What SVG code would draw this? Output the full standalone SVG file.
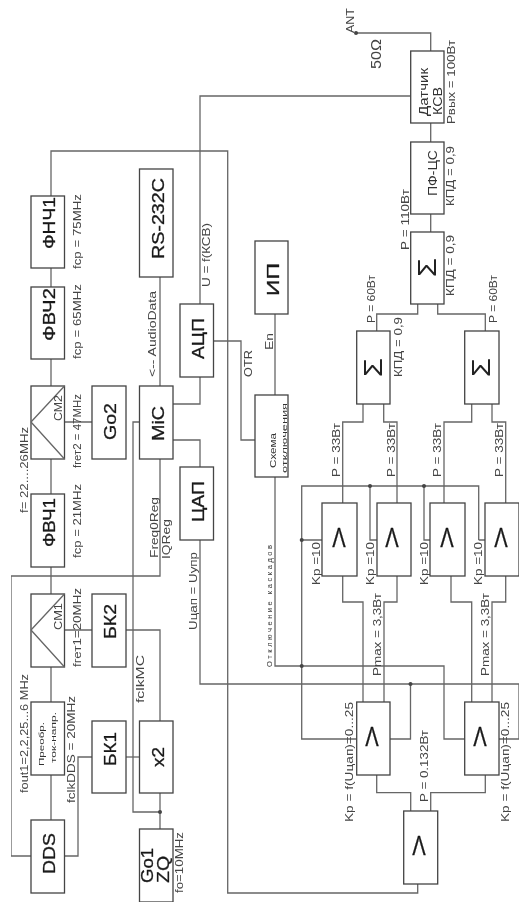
<svg xmlns="http://www.w3.org/2000/svg" width="528" height="913" viewBox="0 0 528 913">
<style>
text{font-family:"Liberation Sans",Arial,sans-serif;fill:#2a2a2a}
.b{fill:#fff;stroke:#444;stroke-width:1.3}
.c{fill:none;stroke:#666;stroke-width:1.3}
.d{fill:#444;stroke:none}
.l{font-size:11px;fill:#444}
.n{font-size:16px;fill:#1a1a1a;stroke:#1a1a1a;stroke-width:.3}
.m{font-size:12px;fill:#333}
.s{font-size:7.5px;fill:#333}
.a{font-size:28px;text-anchor:middle;fill:#1a1a1a;stroke:#1a1a1a;stroke-width:.3}
.z{font-size:26px;fill:#222}
</style>
<defs><filter id="soft" x="0" y="0" width="100%" height="100%"><feGaussianBlur stdDeviation="0.35"/></filter></defs>
<rect width="528" height="913" fill="#fff"/>
<g filter="url(#soft)">
<g id="connectors">
<path class="c" d="M51 196V151H227.700V893H417.700V884"/>
<path class="c" d="M51 268V287M51 359V386M51 459V494M51 567V594M51 667V702M51 775V820"/>
<path class="c" d="M200 304V96H410.700"/>
<path class="c" d="M160 277V386"/>
<path class="c" d="M213.500 341H241V440H255"/>
<path class="c" d="M200 377V404H173"/>
<path class="c" d="M173 440H200V467"/>
<path class="c" d="M200 540V684H519V739H499"/>
<path class="c" d="M410.500 684V739H390"/>
<path class="c" d="M64.500 422H92M64.500 630H92"/>
<path class="c" d="M126 630H160V721"/>
<path class="c" d="M139.500 422H133V812H160"/>
<path class="c" d="M160 793V829"/>
<path class="c" d="M126 757H139.500"/>
<path class="c" d="M92 757H78V856H64.500"/>
<path class="c" d="M31 856H11V576H160V459"/>
<path class="c" d="M430.700 51V33H356"/>
<path class="c" d="M430.700 123V142M430.700 214V232"/>
<path class="c" d="M417.700 304V314H376.700V331M437.700 304V314H485.300V331"/>
<path class="c" d="M363 404V422H342.700V503M383.700 404V422H397V503"/>
<path class="c" d="M471.700 404V422H444V503M492 404V422H505.700V503"/>
<path class="c" d="M478.700 540V486H301.700V739H356.700"/>
<path class="c" d="M301.700 540H322M370 486V540H377M424 486V540H430M478.700 540H485"/>
<path class="c" d="M275 314V395M275 477V666H444V739H464.700"/>
<path class="c" d="M342.700 576V602H363V702M397 576V602H384V702M451 576V602H471.700V702M505.700 576V602H492V702"/>
<path class="c" d="M376.700 775V792.700H410.700V811M485.300 775V792.700H430.700V811"/>
<circle class="d" cx="356" cy="33" r="2"/>
<circle class="d" cx="160" cy="812" r="2"/>
<circle class="d" cx="370" cy="486" r="2"/>
<circle class="d" cx="424" cy="486" r="2"/>
<circle class="d" cx="301.700" cy="540" r="2"/>
<circle class="d" cx="301.700" cy="666" r="2"/>
<circle class="d" cx="410.500" cy="684" r="2"/>
</g>

<g id="fnch1"><rect class="b" x="31" y="196" width="33.500" height="72"/><text class="n" transform="translate(55,249) rotate(-90)" textLength="52" lengthAdjust="spacingAndGlyphs">ФНЧ1</text></g>
<g id="fvch2"><rect class="b" x="31" y="287" width="33.500" height="72"/><text class="n" transform="translate(55,341) rotate(-90)" textLength="53" lengthAdjust="spacingAndGlyphs">ФВЧ2</text></g>
<g id="rs232"><rect class="b" x="139.500" y="169" width="33.500" height="108"/><text class="n" transform="translate(164,259) rotate(-90)" textLength="81" lengthAdjust="spacingAndGlyphs">RS-232C</text></g>
<g id="adc"><rect class="b" x="180" y="304" width="33.500" height="73"/><text class="n" transform="translate(204,359) rotate(-90)" textLength="41" lengthAdjust="spacingAndGlyphs">АЦП</text></g>
<g id="sm2"><rect class="b" x="31" y="386" width="33.500" height="73"/><path class="c" d="M31 422L64.500 386M31 422L64.500 459"/><text class="l" transform="translate(62,421) rotate(-90)" textLength="26" lengthAdjust="spacingAndGlyphs">СМ2</text></g>
<g id="go2"><rect class="b" x="92" y="386" width="34" height="73"/><text class="n" transform="translate(116,440) rotate(-90)" textLength="37" lengthAdjust="spacingAndGlyphs">Go2</text></g>
<g id="mic"><rect class="b" x="139.500" y="386" width="33.500" height="73"/><text class="n" transform="translate(164,441) rotate(-90)" textLength="35" lengthAdjust="spacingAndGlyphs">MiC</text></g>
<g id="fvch1"><rect class="b" x="31" y="494" width="33.500" height="73"/><text class="n" transform="translate(55,547) rotate(-90)" textLength="49" lengthAdjust="spacingAndGlyphs">ФВЧ1</text></g>
<g id="dac"><rect class="b" x="180" y="467" width="33.500" height="73"/><text class="n" transform="translate(204,522) rotate(-90)" textLength="41" lengthAdjust="spacingAndGlyphs">ЦАП</text></g>
<g id="sm1"><rect class="b" x="31" y="594" width="33.500" height="73"/><path class="c" d="M31 630L64.500 594M31 630L64.500 667"/><text class="l" transform="translate(62,630) rotate(-90)" textLength="27" lengthAdjust="spacingAndGlyphs">СМ1</text></g>
<g id="bk2"><rect class="b" x="92" y="594" width="34" height="73"/><text class="n" transform="translate(116,639) rotate(-90)" textLength="35" lengthAdjust="spacingAndGlyphs">БК2</text></g>
<g id="conv"><rect class="b" x="31" y="702" width="33.500" height="73"/><text class="s" style="font-size:8px" transform="translate(44,766) rotate(-90)" textLength="44" lengthAdjust="spacingAndGlyphs">Преобр.</text><text class="s" transform="translate(56,763) rotate(-90)" textLength="51" lengthAdjust="spacingAndGlyphs">ток-напр.</text></g>
<g id="bk1"><rect class="b" x="92" y="721" width="34" height="72"/><text class="n" transform="translate(116,766) rotate(-90)" textLength="34" lengthAdjust="spacingAndGlyphs">БК1</text></g>
<g id="x2"><rect class="b" x="139.500" y="721" width="33.500" height="72"/><text class="n" transform="translate(164,767) rotate(-90)" textLength="20" lengthAdjust="spacingAndGlyphs">x2</text></g>
<g id="dds"><rect class="b" x="31" y="820" width="33.500" height="73"/><text class="n" transform="translate(55,874) rotate(-90)" textLength="41" lengthAdjust="spacingAndGlyphs">DDS</text></g>
<g id="go1"><rect class="b" x="139.500" y="829" width="33.500" height="73"/><text class="n" transform="translate(153,883) rotate(-90)" textLength="35" lengthAdjust="spacingAndGlyphs">Go1</text><text class="n" transform="translate(169,883) rotate(-90)" textLength="27" lengthAdjust="spacingAndGlyphs">ZQ</text></g>
<g id="swr"><rect class="b" x="410.700" y="51" width="33.300" height="72"/><text class="m" transform="translate(428,116) rotate(-90)" textLength="48" lengthAdjust="spacingAndGlyphs">Датчик</text><text class="m" transform="translate(442,115) rotate(-90)" textLength="28" lengthAdjust="spacingAndGlyphs">КСВ</text></g>
<g id="pf"><rect class="b" x="410.700" y="142" width="33.300" height="72"/><text class="m" transform="translate(437,196) rotate(-90)" textLength="46" lengthAdjust="spacingAndGlyphs">ПФ-ЦС</text></g>
<g id="sum0"><rect class="b" x="410.700" y="232" width="33.300" height="72"/><text class="z" transform="translate(436,277) rotate(-90)" textLength="19" lengthAdjust="spacingAndGlyphs">Σ</text></g>
<g id="ip"><rect class="b" x="255" y="241" width="33" height="73"/><text class="n" transform="translate(279,296) rotate(-90)" textLength="33" lengthAdjust="spacingAndGlyphs">ИП</text></g>
<g id="off"><rect class="b" x="255" y="395" width="33" height="82"/><text class="s" style="font-size:9px" transform="translate(276,468) rotate(-90)" textLength="35" lengthAdjust="spacingAndGlyphs">Схема</text><text class="s" style="font-size:7px" transform="translate(287,473) rotate(-90)" textLength="70" lengthAdjust="spacingAndGlyphs">отключения</text></g>
<g id="sum1"><rect class="b" x="356.700" y="331" width="33.300" height="73"/><text class="z" transform="translate(382,377) rotate(-90)" textLength="19" lengthAdjust="spacingAndGlyphs">Σ</text></g>
<g id="sum2"><rect class="b" x="464.700" y="331" width="34.300" height="73"/><text class="z" transform="translate(490,377) rotate(-90)" textLength="19" lengthAdjust="spacingAndGlyphs">Σ</text></g>
<g id="amp1"><rect class="b" x="322" y="503" width="35" height="73"/><text class="a" transform="translate(339,547) scale(.72,1)">Λ</text></g>
<g id="amp2"><rect class="b" x="377" y="503" width="34" height="73"/><text class="a" transform="translate(392,547) scale(.72,1)">Λ</text></g>
<g id="amp3"><rect class="b" x="430" y="503" width="35" height="73"/><text class="a" transform="translate(447,547) scale(.72,1)">Λ</text></g>
<g id="amp4"><rect class="b" x="485" y="503" width="34" height="73"/><text class="a" transform="translate(501,547) scale(.72,1)">Λ</text></g>
<g id="drv1"><rect class="b" x="356.700" y="702" width="33.300" height="73"/><text class="a" transform="translate(372,746) scale(.72,1)">Λ</text></g>
<g id="drv2"><rect class="b" x="464.700" y="702" width="34.300" height="73"/><text class="a" transform="translate(480,746) scale(.72,1)">Λ</text></g>
<g id="pre"><rect class="b" x="403.700" y="811" width="34" height="73"/><text class="a" transform="translate(419,855) scale(.72,1)">Λ</text></g>

<g id="labels">
<text class="l" transform="translate(81,269) rotate(-90)" textLength="75" lengthAdjust="spacingAndGlyphs">fcp = 75MHz</text>
<text class="l" transform="translate(81,359) rotate(-90)" textLength="75" lengthAdjust="spacingAndGlyphs">fcp = 65MHz</text>
<text class="l" transform="translate(210,287) rotate(-90)" textLength="64" lengthAdjust="spacingAndGlyphs">U = f(КСВ)</text>
<text class="l" transform="translate(156,377) rotate(-90)" textLength="86" lengthAdjust="spacingAndGlyphs">&lt;-- AudioData</text>
<text class="l" transform="translate(252,377) rotate(-90)" textLength="27" lengthAdjust="spacingAndGlyphs">OTR</text>
<text class="l" transform="translate(28,513) rotate(-90)" textLength="86" lengthAdjust="spacingAndGlyphs">f= 22....26MHz</text>
<text class="l" transform="translate(81,468) rotate(-90)" textLength="74" lengthAdjust="spacingAndGlyphs">fгет2 = 47MHz</text>
<text class="l" transform="translate(81,558) rotate(-90)" textLength="74" lengthAdjust="spacingAndGlyphs">fcp = 21MHz</text>
<text class="l" transform="translate(158,558) rotate(-90)" textLength="61" lengthAdjust="spacingAndGlyphs">Freq0Reg</text>
<text class="l" transform="translate(170,559) rotate(-90)" textLength="40" lengthAdjust="spacingAndGlyphs">IQReg</text>
<text class="l" transform="translate(197,630) rotate(-90)" textLength="78" lengthAdjust="spacingAndGlyphs">Uцап = Uупр</text>
<text class="l" transform="translate(81,667) rotate(-90)" textLength="79" lengthAdjust="spacingAndGlyphs">fгет1=20MHz</text>
<text class="l" transform="translate(144,703) rotate(-90)" textLength="48" lengthAdjust="spacingAndGlyphs">fclkMC</text>
<text class="l" transform="translate(28,793) rotate(-90)" textLength="119" lengthAdjust="spacingAndGlyphs">fout1=2,2,25...6 MHz</text>
<text class="l" transform="translate(75,803) rotate(-90)" textLength="107" lengthAdjust="spacingAndGlyphs">fclkDDS = 20MHz</text>
<text class="l" transform="translate(183,893) rotate(-90)" textLength="61" lengthAdjust="spacingAndGlyphs">fo=10MHz</text>
<text class="l" transform="translate(354,33) rotate(-90)" textLength="25" lengthAdjust="spacingAndGlyphs">ANT</text>
<text class="l" style="font-size:14px" transform="translate(381,69) rotate(-90)" textLength="30" lengthAdjust="spacingAndGlyphs">50Ω</text>
<text class="l" transform="translate(455,124) rotate(-90)" textLength="84" lengthAdjust="spacingAndGlyphs">Рвых = 100Вт</text>
<text class="l" transform="translate(454,206) rotate(-90)" textLength="60" lengthAdjust="spacingAndGlyphs">КПД = 0,9</text>
<text class="l" transform="translate(409,250) rotate(-90)" textLength="61" lengthAdjust="spacingAndGlyphs">P = 110Вт</text>
<text class="l" transform="translate(454,296) rotate(-90)" textLength="61" lengthAdjust="spacingAndGlyphs">КПД = 0,9</text>
<text class="l" transform="translate(375,323) rotate(-90)" textLength="48" lengthAdjust="spacingAndGlyphs">P = 60Вт</text>
<text class="l" transform="translate(497,323) rotate(-90)" textLength="48" lengthAdjust="spacingAndGlyphs">P = 60Вт</text>
<text class="l" transform="translate(402,377) rotate(-90)" textLength="60" lengthAdjust="spacingAndGlyphs">КПД = 0,9</text>
<text class="l" transform="translate(273,350) rotate(-90)" textLength="17" lengthAdjust="spacingAndGlyphs">En</text>
<text class="l" transform="translate(340,477) rotate(-90)" textLength="54" lengthAdjust="spacingAndGlyphs">P = 33Вт</text>
<text class="l" transform="translate(395,477) rotate(-90)" textLength="54" lengthAdjust="spacingAndGlyphs">P = 33Вт</text>
<text class="l" transform="translate(441,477) rotate(-90)" textLength="54" lengthAdjust="spacingAndGlyphs">P = 33Вт</text>
<text class="l" transform="translate(503,477) rotate(-90)" textLength="54" lengthAdjust="spacingAndGlyphs">P = 33Вт</text>
<text class="l" transform="translate(320,585) rotate(-90)" textLength="43" lengthAdjust="spacingAndGlyphs">Kp =10</text>
<text class="l" transform="translate(374,585) rotate(-90)" textLength="43" lengthAdjust="spacingAndGlyphs">Kp =10</text>
<text class="l" transform="translate(428,585) rotate(-90)" textLength="43" lengthAdjust="spacingAndGlyphs">Kp =10</text>
<text class="l" transform="translate(482,585) rotate(-90)" textLength="43" lengthAdjust="spacingAndGlyphs">Kp =10</text>
<text class="s" transform="translate(272,667) rotate(-90)" textLength="122" lengthAdjust="spacing">Отключение каскадов</text>
<text class="l" transform="translate(381,676) rotate(-90)" textLength="83" lengthAdjust="spacingAndGlyphs">Pmax = 3,3Вт</text>
<text class="l" transform="translate(489,676) rotate(-90)" textLength="83" lengthAdjust="spacingAndGlyphs">Pmax = 3,3Вт</text>
<text class="l" transform="translate(353,822) rotate(-90)" textLength="120" lengthAdjust="spacingAndGlyphs">Kp = f(Uцап)=0...25</text>
<text class="l" transform="translate(509,822) rotate(-90)" textLength="120" lengthAdjust="spacingAndGlyphs">Kp = f(Uцап)=0...25</text>
<text class="l" transform="translate(428,802) rotate(-90)" textLength="72" lengthAdjust="spacingAndGlyphs">P = 0.132Вт</text>
</g>
</g>
</svg>
